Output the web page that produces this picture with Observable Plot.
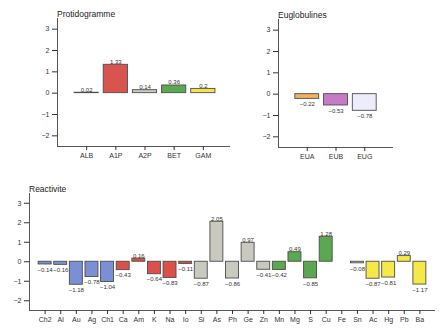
<!DOCTYPE html>
<html><head><meta charset="utf-8">
<script src="https://cdn.jsdelivr.net/npm/d3@7"></script>
<script src="https://cdn.jsdelivr.net/npm/@observablehq/plot@0.6"></script>
<style>
body{margin:0;background:#fff;}
#wrap{position:relative;width:441px;height:336px;overflow:hidden;font-family:"Liberation Sans",Arial,sans-serif;background:#fff;}
.panel{position:absolute;}
.title{position:absolute;font-size:8.5px;line-height:1;color:#222;white-space:nowrap;}
</style></head><body><div id="wrap"></div>
<script>
// Protidogramme
const protCats = ["ALB","A1P","A2P","BET","GAM"];
const protValues = [0.02, 1.33, 0.14, 0.36, 0.2];
const protColors = ["#b8b8b0","#d9534f","#c9c9c0","#5ba850","#f5e24c"];

// Euglobulines
const eugCats = ["EUA","EUB","EUG"];
const eugValues = [-0.22, -0.53, -0.78];
const eugColors = ["#f2b35e","#c77ac8","#ececfa"];

// Reactivite
const reaCats = ["Ch2","Al","Au","Ag","Ch1","Ca","Am","K","Na","Io","Si","As","Ph","Ge","Zn","Mn","Mg","S","Cu","Fe","Sn","Ac","Hg","Pb","Ba"];
const reaValues = [-0.14,-0.16,-1.18,-0.78,-1.04,-0.43,0.16,-0.64,-0.83,-0.11,-0.87,2.05,-0.86,0.97,-0.41,-0.42,0.49,-0.85,1.28,0,-0.08,-0.87,-0.81,0.29,-1.17];
const reaColors = ["#7b8fd4","#7b8fd4","#7b8fd4","#7b8fd4","#7b8fd4",
  "#dd4f4a","#dd4f4a","#dd4f4a","#dd4f4a","#dd4f4a",
  "#c9c9c0","#c9c9c0","#c9c9c0","#c9c9c0","#c9c9c0",
  "#5aa84f","#5aa84f","#5aa84f","#5aa84f",
  "#c9c9c0","#c9c9b8",
  "#f7e84a","#f7e84a","#f7e84a","#f7e84a"];

const yTicks = [-2,-1,0,1,2,3];
const yDomain = [-2.5, 3.5];

const wrap = document.getElementById("wrap");
const fmt = v => String(v).replace("-", "\u2212");

function panel({cats, values, colors, left, top, width, height, mL, mR, mT, mB, title, titleLeft, titleTop}) {
  const n = cats.length;
  const data = cats.map((c, i) => ({i: i + 1, cat: c, v: values[i], color: colors[i]}));
  const plot = Plot.plot({
    width, height,
    marginLeft: mL, marginRight: mR, marginTop: mT, marginBottom: mB,
    style: {fontFamily: '"Liberation Sans", Arial, sans-serif', fontSize: "7px", color: "#333", background: "#fff"},
    x: {domain: [0, n + 1]},
    y: {domain: yDomain},
    color: {type: "identity"},
    marks: [
      Plot.rect(data, {x1: d => d.i - 0.415, x2: d => d.i + 0.415, y1: 0, y2: "v", fill: "color", stroke: "#4d4d4d", strokeWidth: 0.9}),
      Plot.text(data.filter(d => d.v > 0), {x: "i", y: "v", text: d => fmt(d.v), lineAnchor: "bottom", dy: -1, fontSize: 6}),
      Plot.text(data.filter(d => d.v < 0), {x: "i", y: "v", text: d => fmt(d.v), lineAnchor: "top", dy: 3, fontSize: 6}),
      Plot.ruleX([0], {stroke: "#444", strokeWidth: 0.9}),
      Plot.ruleY([yDomain[0]], {stroke: "#444", strokeWidth: 0.9}),
      Plot.axisY({ticks: yTicks, tickFormat: d => fmt(d), tickSize: 5, tickPadding: 3, label: null}),
      Plot.axisX({ticks: d3.range(1, n + 1), tickFormat: i => cats[i - 1], tickSize: 4, tickPadding: 3, label: null})
    ]
  });
  const div = document.createElement("div");
  div.className = "panel";
  div.style.left = left + "px";
  div.style.top = top + "px";
  div.appendChild(plot);
  wrap.appendChild(div);
  const t = document.createElement("div");
  t.className = "title";
  t.textContent = title;
  t.style.left = titleLeft + "px";
  t.style.top = titleTop + "px";
  wrap.appendChild(t);
}

panel({cats: protCats, values: protValues, colors: protColors, left: 0, top: 0, width: 240, height: 170,
  mL: 57, mR: 8, mT: 18, mB: 24, title: "Protidogramme", titleLeft: 57, titleTop: 10});
panel({cats: eugCats, values: eugValues, colors: eugColors, left: 230, top: 0, width: 180, height: 170,
  mL: 48, mR: 17, mT: 19, mB: 23, title: "Euglobulines", titleLeft: 278, titleTop: 10.5});
panel({cats: reaCats, values: reaValues, colors: reaColors, left: 0, top: 180, width: 441, height: 156,
  mL: 29, mR: 6, mT: 13, mB: 26, title: "Reactivite", titleLeft: 29, titleTop: 185});
</script>
</body></html>
